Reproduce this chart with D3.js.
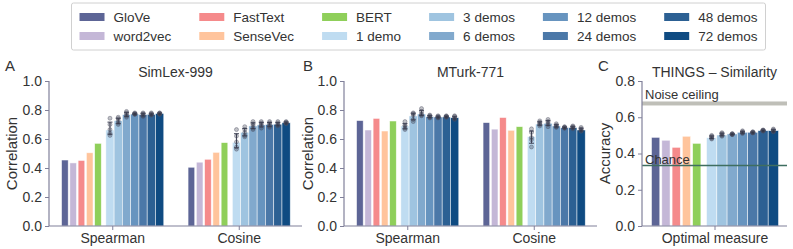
<!DOCTYPE html>
<html>
<head>
    <script src="https://d3js.org/d3.v7.min.js"></script>
    <style>
        body { margin: 0; background: #fff; }
        text { font-family: "Liberation Sans", Arial, sans-serif; fill: #333; }
    </style>
</head>
<body>
    <svg id="chart" width="793" height="249"></svg>
    <script>
        // ---- data ----
        var models = ["GloVe", "word2vec", "FastText", "SenseVec", "BERT"];
        var demos = ["1 demo", "3 demos", "6 demos", "12 demos", "24 demos", "48 demos", "72 demos"];
        var modelColors = ["#5d6596", "#c4b7d7", "#f58a8b", "#ffc49c", "#8fcf5a"];
        var demoColors = ["#bfdcf1", "#9fc4e0", "#81a9cd", "#6794bf", "#4b78a8", "#2c6093", "#0f4b82"];

        // SimLex-999
        var simlexSpearmanBase = [0.455, 0.435, 0.452, 0.505, 0.570];
        var simlexSpearmanDemo = [0.662, 0.726, 0.768, 0.772, 0.768, 0.770, 0.776];
        var simlexSpearmanSeeds = [
            [0.743, 0.700, 0.665, 0.640, 0.625], [0.750, 0.740, 0.725, 0.710, 0.700],
            [0.790, 0.780, 0.770, 0.760, 0.750], [0.780, 0.775, 0.775, 0.770, 0.770],
            [0.780, 0.775, 0.770, 0.760, 0.755], [0.780, 0.775, 0.770, 0.765, 0.765],
            [0.780, 0.778, 0.775, 0.772, 0.770]];
        var simlexCosineBase = [0.405, 0.440, 0.460, 0.508, 0.575];
        var simlexCosineDemo = [0.577, 0.646, 0.690, 0.697, 0.700, 0.702, 0.712];
        var simlexCosineSeeds = [
            [0.665, 0.620, 0.580, 0.545, 0.530], [0.685, 0.665, 0.645, 0.625, 0.615],
            [0.720, 0.705, 0.695, 0.675, 0.665], [0.720, 0.710, 0.700, 0.690, 0.675],
            [0.720, 0.710, 0.700, 0.690, 0.680], [0.720, 0.710, 0.700, 0.695, 0.690],
            [0.720, 0.715, 0.710, 0.710, 0.705]];

        // MTurk-771
        var mturkSpearmanBase = [0.727, 0.662, 0.742, 0.655, 0.724];
        var mturkSpearmanDemo = [0.690, 0.759, 0.772, 0.754, 0.752, 0.752, 0.747];
        var mturkSpearmanSeeds = [
            [0.720, 0.695, 0.675, 0.665, 0.690], [0.780, 0.775, 0.765, 0.735, 0.720],
            [0.810, 0.790, 0.775, 0.765, 0.760], [0.765, 0.760, 0.755, 0.750, 0.745],
            [0.760, 0.755, 0.750, 0.750, 0.745], [0.760, 0.755, 0.755, 0.750, 0.750],
            [0.760, 0.755, 0.745, 0.740, 0.735]];
        var mturkCosineBase = [0.713, 0.668, 0.748, 0.660, 0.685];
        var mturkCosineDemo = [0.616, 0.703, 0.708, 0.690, 0.678, 0.678, 0.662];
        var mturkCosineSeeds = [
            [0.670, 0.645, 0.610, 0.595, 0.545], [0.725, 0.715, 0.705, 0.700, 0.690],
            [0.735, 0.720, 0.710, 0.700, 0.685], [0.705, 0.695, 0.690, 0.685, 0.680],
            [0.685, 0.680, 0.680, 0.675, 0.675], [0.690, 0.685, 0.680, 0.675, 0.670],
            [0.680, 0.670, 0.665, 0.655, 0.655]];

        // THINGS similarity
        var thingsBase = [0.489, 0.473, 0.434, 0.495, 0.456];
        var thingsDemo = [0.487, 0.502, 0.508, 0.517, 0.517, 0.526, 0.526];
        var thingsSeeds = [
            [0.500, 0.495, 0.490, 0.484, 0.480], [0.515, 0.510, 0.505, 0.500, 0.495],
            [0.510, 0.508, 0.506, 0.505, 0.504], [0.525, 0.520, 0.515, 0.515, 0.510],
            [0.520, 0.518, 0.515, 0.515, 0.513], [0.530, 0.528, 0.527, 0.525, 0.523],
            [0.535, 0.530, 0.525, 0.522, 0.520]];
        var noiseCeiling = [0.665, 0.687];
        var chanceLevel = 1 / 3;

        var svg = d3.select("#chart");
        var axisColor = "#80809a";
        var yTop = 81, yBottom = 226;

        function drawPanel(cfg) {
            var g = svg.append("g");
            var x = d3.scalePoint().domain(cfg.groups.map(d => d.name))
                .range([cfg.x0, cfg.x1]).padding(0.5);
            var y = d3.scaleLinear().domain(cfg.yDomain).range([yBottom, yTop]);

            var s = cfg.groupWidth / 12.45;   // slot width
            cfg.groups.forEach(function (grp) {
                var left = x(grp.name) - cfg.groupWidth / 2;
                var bars = grp.base.map((v, i) => ({ v: v, c: modelColors[i], x: left + i * s + s * 0.1, w: s * 0.8 }))
                    .concat(grp.demo.map((v, j) => ({ v: v, c: demoColors[j], x: left + (5.45 + j) * s, w: s, seeds: grp.seeds[j] })));

                g.selectAll(null).data(bars).enter().append("rect")
                    .attr("x", d => d.x)
                    .attr("y", d => y(d.v))
                    .attr("width", d => d.w)
                    .attr("height", d => y(0) - y(d.v))
                    .attr("fill", d => d.c)
                    .attr("stroke", "#fff")
                    .attr("stroke-opacity", 0.7)
                    .attr("stroke-width", 0.7);

                var demoBars = bars.filter(d => d.seeds);
                demoBars.forEach(function (d) {
                    var cx = d.x + d.w / 2;
                    var m = d3.mean(d.seeds), ci = 1.96 * d3.deviation(d.seeds) / Math.sqrt(d.seeds.length);
                    g.append("line").attr("x1", cx).attr("x2", cx)
                        .attr("y1", y(m - ci)).attr("y2", y(m + ci))
                        .attr("stroke", "#3c3f52").attr("stroke-width", 1);
                    [m - ci, m + ci].forEach(function (e) {
                        g.append("line").attr("x1", cx - 2.5).attr("x2", cx + 2.5)
                            .attr("y1", y(e)).attr("y2", y(e))
                            .attr("stroke", "#3c3f52").attr("stroke-width", 1);
                    });
                    g.selectAll(null).data(d.seeds).enter().append("circle")
                        .attr("cx", cx).attr("cy", v => y(v)).attr("r", 2)
                        .attr("fill", "rgba(50,52,70,0.3)")
                        .attr("stroke", "rgba(80,82,100,0.6)")
                        .attr("stroke-width", 0.7);
                });
            });

            if (cfg.extra) cfg.extra(g, y);

            // axes
            var ya = g.append("g").attr("transform", "translate(" + cfg.x0 + ",0)")
                .call(d3.axisLeft(y).tickValues(cfg.yTicks).tickFormat(d3.format(".1f")).tickSize(4).tickPadding(3));
            var xa = g.append("g").attr("transform", "translate(0," + yBottom + ")")
                .call(d3.axisBottom(x).tickSize(4).tickPadding(3));
            [ya, xa].forEach(function (a) {
                a.select(".domain").attr("stroke", axisColor).attr("stroke-width", 1.2);
                a.selectAll(".tick line").attr("stroke", axisColor);
                a.selectAll("text").attr("font-size", 14).attr("fill", "#333")
                    .style("font-family", "Liberation Sans, Arial, sans-serif");
            });
            xa.select(".domain").attr("d", "M" + cfg.x0 + ",0H" + cfg.x1);
            ya.select(".domain").attr("d", "M0," + yBottom + "V" + yTop);

            g.append("text").attr("x", (cfg.x0 + cfg.x1) / 2).attr("y", 77)
                .attr("text-anchor", "middle").attr("font-size", 14).text(cfg.title);
            g.append("text").attr("transform", "translate(" + cfg.ylabX + "," + (yTop + yBottom) / 2 + ") rotate(-90)")
                .attr("text-anchor", "middle").attr("font-size", 15).text(cfg.ylabel);
            g.append("text").attr("x", cfg.letterX).attr("y", 71)
                .attr("font-size", 15).text(cfg.letter);
        }

        drawPanel({
            title: "SimLex-999", letter: "A", letterX: 5, ylabel: "Correlation", ylabX: 17,
            x0: 49, x1: 302, groupWidth: 103, yDomain: [0, 1], yTicks: [0, 0.2, 0.4, 0.6, 0.8, 1.0],
            groups: [
                { name: "Spearman", base: simlexSpearmanBase, demo: simlexSpearmanDemo, seeds: simlexSpearmanSeeds },
                { name: "Cosine", base: simlexCosineBase, demo: simlexCosineDemo, seeds: simlexCosineSeeds }]
        });
        drawPanel({
            title: "MTurk-771", letter: "B", letterX: 303, ylabel: "Correlation", ylabX: 313,
            x0: 344, x1: 597, groupWidth: 103, yDomain: [0, 1], yTicks: [0, 0.2, 0.4, 0.6, 0.8, 1.0],
            groups: [
                { name: "Spearman", base: mturkSpearmanBase, demo: mturkSpearmanDemo, seeds: mturkSpearmanSeeds },
                { name: "Cosine", base: mturkCosineBase, demo: mturkCosineDemo, seeds: mturkCosineSeeds }]
        });
        drawPanel({
            title: "THINGS – Similarity", letter: "C", letterX: 598, ylabel: "Accuracy", ylabX: 610,
            x0: 642, x1: 787, groupWidth: 128, yDomain: [0, 0.8], yTicks: [0, 0.2, 0.4, 0.6, 0.8],
            groups: [{ name: "Optimal measure", base: thingsBase, demo: thingsDemo, seeds: thingsSeeds }],
            extra: function (g, y) {
                g.append("rect").attr("x", 642).attr("width", 787 - 642)
                    .attr("y", y(noiseCeiling[1])).attr("height", y(noiseCeiling[0]) - y(noiseCeiling[1]))
                    .attr("fill", "#bfbfb8");
                g.append("text").attr("x", 645).attr("y", y(noiseCeiling[1]) - 2)
                    .attr("font-size", 13).text("Noise ceiling");
                g.append("line").attr("x1", 642).attr("x2", 787)
                    .attr("y1", y(chanceLevel)).attr("y2", y(chanceLevel))
                    .attr("stroke", "#3f6e60").attr("stroke-width", 1.5);
                g.append("text").attr("x", 645).attr("y", y(chanceLevel) - 2)
                    .attr("font-size", 13).text("Chance");
            }
        });

        // ---- legend: two rows, column-major ----
        var labels = models.concat(demos);
        var colors = modelColors.concat(demoColors);
        var leg = svg.append("g");
        var box = leg.append("rect").attr("fill", "#fff").attr("stroke", "#d0d0d0").attr("rx", 2);
        var handle = 25, textPad = 9, colGap = 28, pad = 8;
        var cx = 0;
        for (var c = 0; c < 6; c++) {
            var w = 0;
            for (var r = 0; r < 2; r++) {
                var k = c * 2 + r;
                leg.append("rect").attr("x", cx).attr("y", 13 + r * 19).attr("width", handle).attr("height", 8)
                    .attr("fill", colors[k]);
                var t = leg.append("text").attr("x", cx + handle + textPad).attr("y", 22 + r * 19)
                    .attr("font-size", 13.5).text(labels[k]);
                w = Math.max(w, t.node().getComputedTextLength());
            }
            cx += handle + textPad + w + colGap;
        }
        var total = cx - colGap + 2 * pad;
        var legLeft = 418.5 - total / 2;
        leg.attr("transform", "translate(" + (legLeft + pad) + ",0)");
        box.attr("x", -pad).attr("y", 3).attr("width", total).attr("height", 47);
    </script>
</body>
</html>
